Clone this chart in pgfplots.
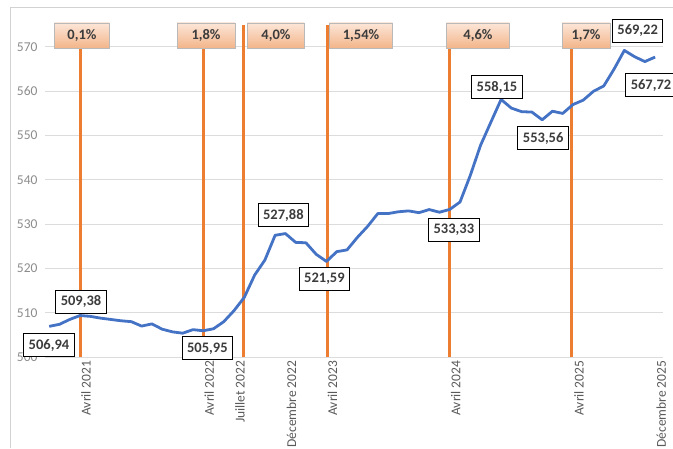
\documentclass[border=0pt]{standalone}
\usepackage{pgfplots}
\pgfplotsset{compat=1.18}
\usepackage{fontspec}
\setmainfont{Carlito}
\definecolor{lineblue}{HTML}{4472C4}
\definecolor{vorange}{HTML}{ED7D31}
\definecolor{gridgray}{HTML}{DCDCDC}
\definecolor{ticktext}{HTML}{8C8C8C}
\definecolor{xticktext}{HTML}{5A5A5A}
\definecolor{labtext}{HTML}{3C3C3C}
\definecolor{peachtop}{HTML}{FCE6D8}
\definecolor{peachbot}{HTML}{F3B58A}

\pgfplotstableread{
t v
0 506.94
1 507.4
2 508.5
3 509.38
4 509.2
5 508.8
6 508.5
7 508.2
8 508.0
9 507.0
10 507.5
11 506.3
12 505.7
13 505.4
14 506.2
15 505.95
16 506.4
17 508.0
18 510.5
19 513.5
20 518.5
21 521.9
22 527.5
23 527.88
24 525.9
25 525.8
26 523.2
27 521.59
28 523.8
29 524.2
30 527.0
31 529.5
32 532.4
33 532.4
34 532.8
35 533.0
36 532.6
37 533.3
38 532.7
39 533.33
40 535.0
41 541.0
42 547.8
43 553.0
44 558.15
45 556.2
46 555.4
47 555.3
48 553.56
49 555.5
50 555.0
51 557.0
52 558.0
53 560.0
54 561.2
55 565.0
56 569.22
57 567.8
58 566.7
59 567.72
}\datatable

\begin{document}
\begin{tikzpicture}[
  pbox/.style={draw=gray!55, line width=0.8pt, top color=peachtop, bottom color=peachbot,
    text=labtext, font=\bfseries\fontsize{14.5}{16}\selectfont, minimum height=25pt, inner xsep=2pt},
  dbox/.style={draw=black, line width=1pt, fill=white, text=labtext,
    font=\bfseries\fontsize{14.5}{16}\selectfont, minimum height=23pt, inner xsep=5pt}
]
\begin{axis}[
  scale only axis, width=618pt, height=350pt,
  xmin=-0.41, xmax=59.77, ymin=500, ymax=579,
  axis line style={draw=none},
  tick style={draw=none},
  clip=false,
  ytick={500,510,520,530,540,550,560,570},
  ymajorgrids, grid style={gridgray, line width=1pt},
  /pgf/number format/assume math mode=true,
  yticklabel style={font=\fontsize{13.5}{15}\selectfont, text=ticktext, xshift=-4pt},
  xtick={3,15,18,23,27,39,51,59},
  xticklabels={Avril 2021,Avril 2022,Juillet 2022,Décembre 2022,Avril 2023,Avril 2024,Avril 2025,Décembre 2025},
  xticklabel style={rotate=90, anchor=east, font=\fontsize{13.5}{15}\selectfont, text=xticktext, yshift=-6pt},
]
% frame of the chart area
\draw[gray!35, line width=0.8pt] (axis cs:-3.82,479.46) -- (axis cs:-3.82,579) -- (axis cs:60.74,579);
% vertical markers
\addplot[vorange, line width=3pt] coordinates {(3,500) (3,572)};
\addplot[vorange, line width=3pt] coordinates {(15,500) (15,572)};
\addplot[vorange, line width=3pt] coordinates {(18.95,500) (18.95,574.9)};
\addplot[vorange, line width=3pt] coordinates {(27.05,500) (27.05,574.9)};
\addplot[vorange, line width=3pt] coordinates {(39,500) (39,572)};
\addplot[vorange, line width=3pt] coordinates {(50.9,500) (50.9,572)};
% series
\addplot[lineblue, line width=2.8pt, line join=round] table[x=t, y=v] {\datatable};
% label anchors
\coordinate (P1) at (axis cs:3.19,572.6);
\coordinate (P2) at (axis cs:15.27,572.6);
\coordinate (P3) at (axis cs:22.08,572.6);
\coordinate (P4) at (axis cs:30.36,572.6);
\coordinate (P5) at (axis cs:41.75,572.6);
\coordinate (P6) at (axis cs:52.27,572.6);
\coordinate (D1) at (axis cs:-0.02,502.7);
\coordinate (D2) at (axis cs:3.1,512.5);
\coordinate (D3) at (axis cs:15.4,502.0);
\coordinate (D4) at (axis cs:22.8,532.05);
\coordinate (D5) at (axis cs:26.8,517.6);
\coordinate (D6) at (axis cs:39.4,528.7);
\coordinate (D7) at (axis cs:43.6,560.9);
\coordinate (D8) at (axis cs:48.1,549.4);
\coordinate (D9) at (axis cs:57.3,573.6);
\coordinate (D10) at (axis cs:58.6,561.4);
\coordinate (BL) at (axis cs:-4.79,479.46);
\coordinate (TR) at (axis cs:60.74,580.6);
\end{axis}
\node[pbox, minimum width=55pt] at (P1) {0,1\%};
\node[pbox, minimum width=58pt] at (P2) {1,8\%};
\node[pbox, minimum width=57pt] at (P3) {4,0\%};
\node[pbox, minimum width=63pt] at (P4) {1,54\%};
\node[pbox, minimum width=63pt] at (P5) {4,6\%};
\node[pbox, minimum width=48pt] at (P6) {1,7\%};
\node[dbox] at (D1) {506,94};
\node[dbox] at (D2) {509,38};
\node[dbox] at (D3) {505,95};
\node[dbox] at (D4) {527,88};
\node[dbox] at (D5) {521,59};
\node[dbox] at (D6) {533,33};
\node[dbox] at (D7) {558,15};
\node[dbox] at (D8) {553,56};
\node[dbox] at (D9) {569,22};
\node[dbox] at (D10) {567,72};
\pgfresetboundingbox
\useasboundingbox (BL) rectangle (TR);
\end{tikzpicture}
\end{document}
